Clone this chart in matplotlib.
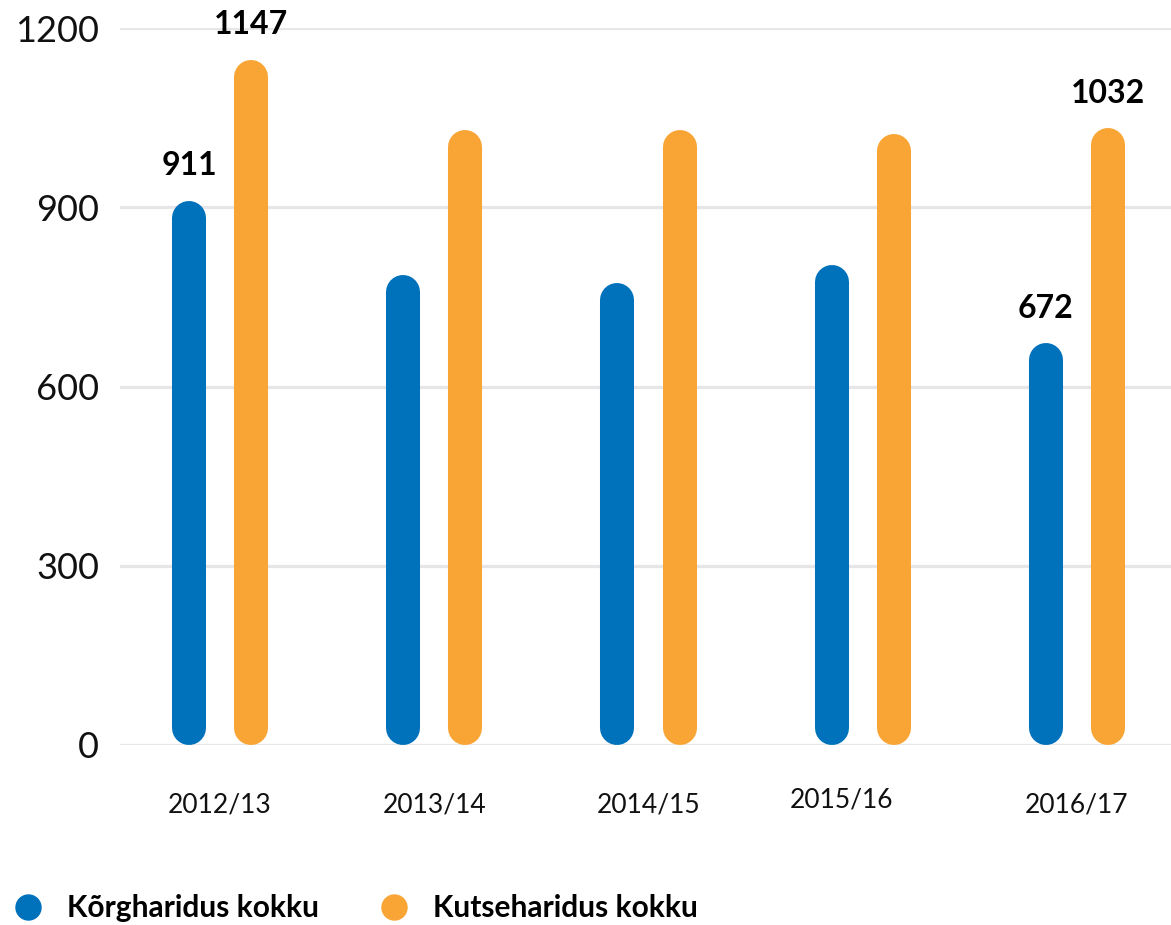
import numpy as np
import matplotlib
matplotlib.use("Agg")
import matplotlib.pyplot as plt
import matplotlib.transforms as mtransforms
from matplotlib.lines import Line2D

# data
years = ["2012/13", "2013/14", "2014/15", "2015/16", "2016/17"]
korg = [911, 787, 773, 804, 672]
kutse = [1147, 1030, 1030, 1022, 1032]
labelled_korg = [0, 4]     # bars that carry a value label
labelled_kutse = [0, 4]
series_names = ["Kõrgharidus kokku", "Kutseharidus kokku"]

blue = "#0071bb"
orange = "#f9a535"
grid_col = "#e6e6e8"

plt.rcParams['font.family'] = ['Lato', 'DejaVu Sans']

fig = plt.figure(figsize=(11.71, 9.25), dpi=100)
ax = fig.add_axes([120/1171, 180/925, 1051/1171, 717/925])
ax.set_ylim(0, 1200)
ax.set_xlim(-0.467, 4.439)

# gridlines
ax.set_yticks([0, 300, 600, 900, 1200])
ax.yaxis.grid(True, color=grid_col, linewidth=2.3, zorder=0)
ax.set_axisbelow(True)
for s in ax.spines.values():
    s.set_visible(False)
ax.tick_params(axis='y', length=0, pad=15, labelsize=26, labelcolor='#111111')
ax.tick_params(axis='x', length=0, pad=34, labelsize=19, labelcolor='#111111')

x = np.arange(len(years))
off = 0.145
lw = 24.5  # points, ~34 px bar width

# radius of the round cap in data units, so the cap ends at the value
fig.canvas.draw()
r_px = lw * fig.dpi / 72 / 2
p0 = ax.transData.transform((0, 0))
r_data = ax.transData.inverted().transform((p0[0], p0[1] + r_px))[1]

def rounded_bars(xs, vals, color):
    for xi, v in zip(xs, vals):
        ax.plot([xi, xi], [r_data, v - r_data], color=color, linewidth=lw,
                solid_capstyle='round', zorder=3)

rounded_bars(x - off, korg, blue)
rounded_bars(x + off, kutse, orange)

def value_labels(xs, vals, idx):
    for i in idx:
        ax.annotate(str(vals[i]), (xs[i], vals[i]), xytext=(0, 18.5),
                    textcoords='offset points', ha='center', va='baseline',
                    fontsize=23, fontweight='bold', color='black',
                    annotation_clip=False)

value_labels(x - off, korg, labelled_korg)
value_labels(x + off, kutse, labelled_kutse)

ax.set_xticks(x)
ax.set_xticklabels(years)
# the 2015/16 label sits a bit left and higher in the original
lab = ax.get_xticklabels()[3]
lab.set_transform(lab.get_transform() +
                  mtransforms.ScaledTranslation(-21/100, 5/100, fig.dpi_scale_trans))

handles = [Line2D([], [], linestyle='none', marker='o', markersize=18, color=blue),
           Line2D([], [], linestyle='none', marker='o', markersize=18, color=orange)]
leg = fig.legend(handles, series_names, loc='lower left', bbox_to_anchor=(0.009, 0.0),
                 ncol=2, frameon=False, handlelength=1.0, handletextpad=0.8,
                 columnspacing=2.0, borderaxespad=0.0, borderpad=0.1,
                 prop={'size': 21.5, 'weight': 'bold'})

fig.savefig("out.png", dpi=100)
